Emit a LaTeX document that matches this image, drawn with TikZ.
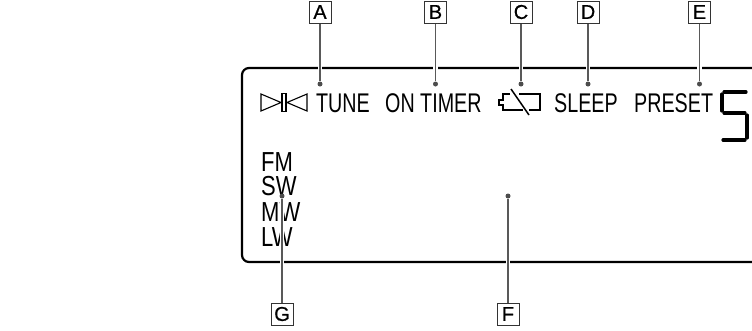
\documentclass[tikz,border=0pt]{standalone}
\usepackage{fontspec}
\setmainfont{Liberation Sans}
\newfontfamily\lcdfont[FakeStretch=0.73]{Liberation Sans}
\newfontfamily\bandfont[FakeStretch=0.8]{Liberation Sans}
\newfontfamily\letterfont[FakeBold=0.6]{Liberation Sans}
\usetikzlibrary{positioning}
\tikzset{
  letterbox/.style={draw=black!80,line width=1pt,fill=white,minimum size=22pt,inner sep=0pt,font=\fontsize{20}{20}\letterfont},
  lcdtext/.style={anchor=base west,inner sep=0pt,font=\fontsize{27}{27}\lcdfont},
  bandtext/.style={anchor=base west,inner sep=0pt,font=\fontsize{27.5}{27.5}\bandfont},
  tip/.style={circle,fill=black!70,minimum size=5pt,inner sep=0pt},
  leader/.style={draw=black!65,line width=1.8pt,preaction={draw=white,line width=4.5pt}},
  icon/.style={line width=1.1pt},
  segment/.style={line width=3.2pt,line cap=round}
}
\begin{document}
\begin{tikzpicture}[x=1pt,y=-1pt]
\useasboundingbox (0,0) rectangle (752,330);
% display frame
\draw[line width=2.2pt,rounded corners=7pt] (760,68) -- (242,68) -- (242,262) -- (760,262);
% display texts
\node[lcdtext] (tune) at (316,112) {TUNE};
\node[lcdtext] (timer) at (385,112) {ON TIMER};
\node[lcdtext] (sleep) at (554,112) {SLEEP};
\node[lcdtext] (preset) at (634,112) {PRESET};
\node[bandtext] (fm) at (261,171) {FM};
\node[bandtext] (sw) at (261,195.5) {SW};
\node[bandtext] (mw) at (261,221) {MW};
\node[bandtext] (lw) at (261,246) {LW};
% tuning mark
\draw[icon] (261,94) -- (281,102.5) -- (261,111) -- cycle;
\draw[icon] (307,94) -- (287,102.5) -- (307,111) -- cycle;
\draw[icon,fill=white] (282,93.5) rectangle (286,111.5);
% battery mark
\draw[icon] (510,94) -- (503,94) -- (503,100) -- (499,100) -- (499,105) -- (503,105) -- (503,110) -- (523,110);
\draw[icon] (519,94) -- (540,94) -- (540,110) -- (529,110);
\draw[line width=1.5pt] (511,89) -- (529,115);
% digit
\draw[segment] (746,92) -- (724,92);
\draw[segment] (722,94) -- (722,111);
\draw[segment] (724,113) -- (745,113);
\draw[segment] (747,115) -- (747,138);
\draw[segment] (745,140) -- (723,140);
% end points of the leaders
\node[tip] (a) at (320,84) {};
\node[tip] (b) at (435.5,84) {};
\node[tip] (c) at (521,84) {};
\node[tip] (d) at (588,84) {};
\node[tip] (e) at (699.5,84) {};
\node[tip] (f) at (508,196) {};
\node[tip] (g) at (282,196) {};
% letters
\node[letterbox] (A) at (320,12) {A};
\node[letterbox] (B) at (435.5,12) {B};
\node[letterbox] (C) at (521,12) {C};
\node[letterbox] (D) at (588,12) {D};
\node[letterbox] (E) at (699.5,12) {E};
\node[letterbox] (F) at (508,314) {F};
\node[letterbox] (G) at (282,314) {G};
\draw[leader] (A) -- (a);
\draw[leader] (B) -- (b);
\draw[leader] (C) -- (c);
\draw[leader] (D) -- (d);
\draw[leader] (E) -- (e);
\draw[leader] (F) -- (f);
\draw[leader] (G) -- (g);
\end{tikzpicture}
\end{document}
